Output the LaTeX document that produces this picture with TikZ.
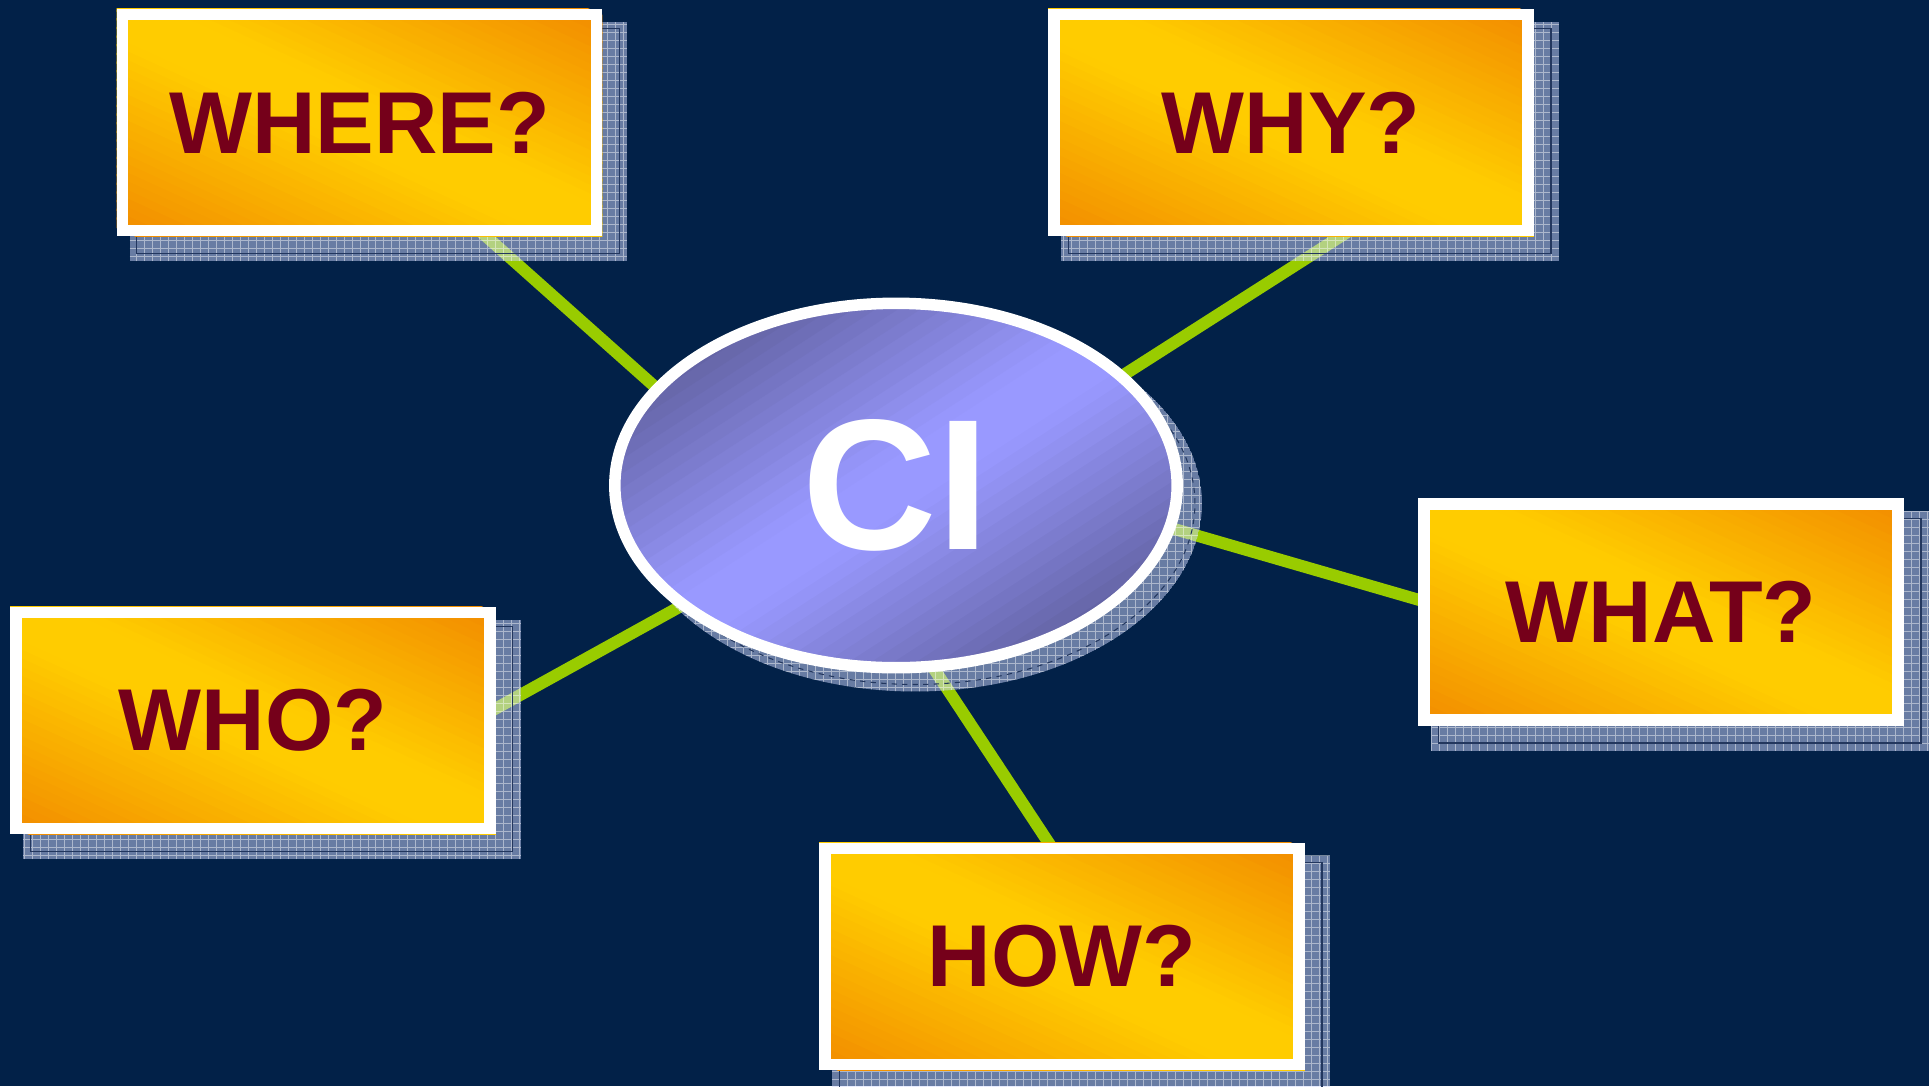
\documentclass[tikz,border=0pt]{standalone}
\usepackage{fontspec}
\setmainfont{Liberation Sans}
\usetikzlibrary{calc,shapes.geometric}
\definecolor{navy}{HTML}{022148}
\definecolor{qyellow}{HTML}{FFCC00}
\definecolor{qorange}{HTML}{F28C00}
\definecolor{qred}{HTML}{75001A}
\definecolor{cidark}{HTML}{6262A2}
\definecolor{cilight}{HTML}{9999FF}
\definecolor{lgreen}{HTML}{99CC00}
\definecolor{shad}{HTML}{CED7FF}
\definecolor{shadline}{HTML}{23375E}
\pgfdeclarelayer{lines}
\pgfdeclarelayer{shadows}
\pgfdeclarelayer{fills}
\pgfsetlayers{lines,shadows,fills,main}
% diagonal gradient strips in a unit square [-1,1]^2: s=(x+y)/2
% #1 end colour, #2 middle colour, #3 |s| where blend starts, #4 |s| where blend is full
\newcommand\gradstrips[4]{%
  \foreach \i in {-25,...,24}{%
    \pgfmathsetmacro\qga{\i/25}%
    \pgfmathsetmacro\qgb{(\i+1)/25+0.01}%
    \pgfmathsetmacro\qgm{abs((\i+0.5)/25)}%
    \pgfmathtruncatemacro\qgp{min(100,max(0,(\qgm-#3)/(#4-#3)*100))}%
    \fill[#1!\qgp!#2] ({2*\qga+2},-2) -- ({2*\qga-2},2) -- ({2*\qgb-2},2) -- ({2*\qgb+2},-2) -- cycle;
  }}
\newcommand\boxgrad[1]{%
  \begin{scope}
    \clip (#1.north west) rectangle (#1.south east);
    \begin{scope}[shift={(#1.center)}, x={(4.745cm,0cm)}, y={(0cm,2.165cm)}]
      \gradstrips{qorange}{qyellow}{0.12}{1.0}
    \end{scope}
  \end{scope}}
\newcommand\qshadow[1]{%
  \begin{scope}
    \clip ($(#1.north west)+(13,13)$) rectangle ($(#1.south east)+(25,25)$);
    \fill[shad, opacity=0.5] ($(#1.north west)+(13,13)$) rectangle ($(#1.south east)+(25,25)$);
    \draw[gridline] ($(#1.north west)+(13,13)$) grid ($(#1.south east)+(25,25)$);
    \draw[shadline, line width=0.6pt] ($(#1.north west)+(20,20)$) rectangle ($(#1.south east)+(17,17)$);
  \end{scope}}
\begin{document}
\begin{tikzpicture}[x=0.02cm,y=-0.02cm,
  qbox/.style={rectangle, draw=white, line width=0.23cm,
    minimum width=9.49cm, minimum height=4.33cm, inner sep=0pt,
    text=qred, font=\bfseries\fontsize{50}{60}\selectfont},
  cinode/.style={ellipse, draw=white, line width=0.23cm,
    minimum width=11.25cm, minimum height=7.29cm, inner sep=0pt,
    text=white, font=\bfseries\fontsize{106}{120}\selectfont},
  conn/.style={lgreen, line width=0.24cm},
  gridline/.style={white, opacity=0.45, line width=0.5pt, step=0.16cm}]
\begin{pgfonlayer}{lines}
  \fill[navy] (0,0) rectangle (1929,1086);
\end{pgfonlayer}
\useasboundingbox (0,0) rectangle (1929,1086);

\node[qbox] (where) at (359.5,122.5) {WHERE?};
\node[qbox] (why) at (1291,122.5) {WHY?};
\node[qbox] (what) at (1661,612) {WHAT?};
\node[qbox] (who) at (253,720.5) {WHO?};
\node[qbox] (how) at (1062,956.5) {HOW?};
\node[cinode] (ci) at (896,485.5) {\raisebox{-0.08cm}{CI}};

\coordinate (l1a) at (470,222); \coordinate (l1b) at (690,418);
\coordinate (l2a) at (1360,224); \coordinate (l2b) at (1100,390);
\coordinate (l3a) at (1440,606); \coordinate (l3b) at (1150,522);
\coordinate (l4a) at (475,720); \coordinate (l4b) at (710,590);
\coordinate (l5a) at (1060,860); \coordinate (l5b) at (915,640);

\begin{pgfonlayer}{lines}
  \draw[conn] (l1a) -- (l1b);
  \draw[conn] (l2a) -- (l2b);
  \draw[conn] (l3a) -- (l3b);
  \draw[conn] (l4a) -- (l4b);
  \draw[conn] (l5a) -- (l5b);
\end{pgfonlayer}

\begin{pgfonlayer}{fills}
  \boxgrad{where}
  \boxgrad{why}
  \boxgrad{what}
  \boxgrad{who}
  \boxgrad{how}
  \begin{scope}
    \clip (ci.center) ellipse [x radius=5.63cm, y radius=3.65cm];
    \begin{scope}[shift={(ci.center)}, x={(-5.625cm,0cm)}, y={(0cm,3.645cm)}]
      \gradstrips{cidark}{cilight}{0.08}{0.72}
    \end{scope}
  \end{scope}
\end{pgfonlayer}

\begin{pgfonlayer}{shadows}
  \qshadow{where}
  \qshadow{why}
  \qshadow{what}
  \qshadow{who}
  \qshadow{how}
  \begin{scope}
    \clip ($(ci)+(19,18)$) ellipse [x radius=5.74cm, y radius=3.76cm];
    \fill[shad, opacity=0.5] ($(ci)+(19,18)$) ellipse [x radius=5.74cm, y radius=3.76cm];
    \draw[gridline] ($(ci)+(-300,-200)$) grid ($(ci)+(330,230)$);
    \draw[shadline, line width=0.6pt, dashed] ($(ci)+(19,18)$) ellipse [x radius=5.60cm, y radius=3.62cm];
  \end{scope}
\end{pgfonlayer}
\end{tikzpicture}
\end{document}
